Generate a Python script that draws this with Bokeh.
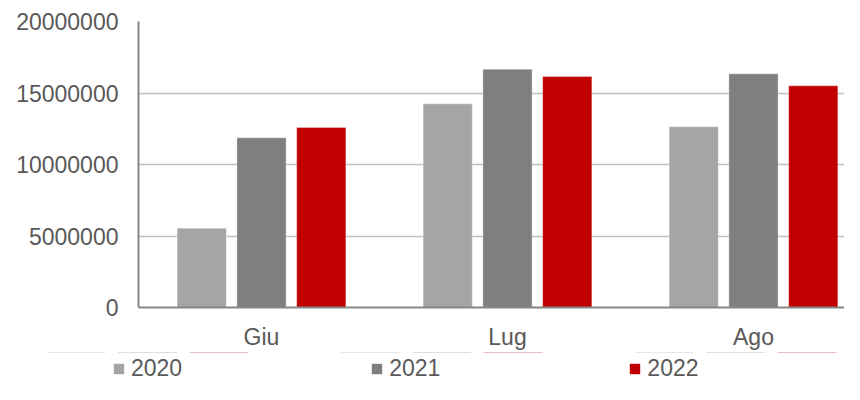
from bokeh.plotting import figure
from bokeh.models import (FixedTicker, Range1d, Legend, LegendItem, ColumnDataSource,
                          BasicTickFormatter)
from bokeh.embed import file_html
from bokeh.resources import INLINE

categories = ["Giu", "Lug", "Ago"]
years = ["2020", "2021", "2022"]
v2020 = [5550000, 14240000, 12640000]
v2021 = [11870000, 16660000, 16340000]
v2022 = [12590000, 16150000, 15500000]
y_ticks = [0, 5000000, 10000000, 15000000, 20000000]

colors = ["#A5A5A5", "#7F7F7F", "#C00000"]
series = [v2020, v2021, v2022]
offsets = [-0.243, 0.0, 0.243]

FONT = "Liberation Sans"
TXT = "#595959"

p = figure(width=844, height=352, output_backend="svg", toolbar_location=None,
           x_range=Range1d(0, 2.870), y_range=Range1d(0, 20000000),
           min_border_left=138, min_border_right=0, min_border_top=21,
           min_border_bottom=45,
           frame_width=706, frame_height=286)
p.outline_line_color = None
p.background_fill_color = "white"

centers = [i + 0.5 for i in range(len(categories))]
sources = []
for vals, col, off in zip(series, colors, offsets):
    src = ColumnDataSource(dict(x=[c + off for c in centers], top=vals))
    sources.append(src)
    p.vbar(x="x", top="top", width=0.2, source=src, fill_color=col,
           line_color="white", line_alpha=0.35, line_width=1)

p.xgrid.grid_line_color = None
p.ygrid.grid_line_color = "#BFBFBF"
p.ygrid.grid_line_width = 1.6
p.ygrid.ticker = FixedTicker(ticks=y_ticks)

p.xaxis.ticker = FixedTicker(ticks=centers)
p.xaxis.major_label_overrides = {c: lab for c, lab in zip(centers, categories)}
p.yaxis.ticker = FixedTicker(ticks=y_ticks)
p.yaxis.formatter = BasicTickFormatter(use_scientific=False)

for ax in (p.xaxis[0], p.yaxis[0]):
    ax.axis_line_color = "#868686"
    ax.axis_line_width = 2
    ax.major_tick_line_color = None
    ax.minor_tick_line_color = None
    ax.major_tick_out = 0
    ax.major_tick_in = 0
    ax.major_label_text_font = FONT
    ax.major_label_text_font_size = "23px"
    ax.major_label_text_color = TXT
p.yaxis.major_label_standoff = 20
p.xaxis.major_label_standoff = 16

# legend strip below the chart (same series, drawn above its visible range)
lg = figure(width=844, height=32, output_backend="svg", toolbar_location=None,
            x_range=Range1d(0, 2.870), y_range=Range1d(-20000000, -10000000),
            x_axis_type=None, y_axis_type=None, min_border=0)
lg.outline_line_color = None
lg.xgrid.grid_line_color = None
lg.ygrid.grid_line_color = None
legend_renderers = [lg.vbar(x="x", top="top", width=0.2, source=src,
                            fill_color=c, line_color=None)
                    for src, c in zip(sources, colors)]
legend = Legend(items=[LegendItem(label=y, renderers=[r])
                       for y, r in zip(years, legend_renderers)],
                orientation="horizontal", location=(112, 2),
                glyph_width=13, glyph_height=13, label_height=13,
                label_standoff=6, spacing=188, padding=0, margin=0,
                border_line_color=None, background_fill_alpha=0,
                label_text_font=FONT, label_text_font_size="23px",
                label_text_color=TXT)
lg.add_layout(legend, "center")

open("out.html", "w").write(file_html([p, lg], INLINE))
